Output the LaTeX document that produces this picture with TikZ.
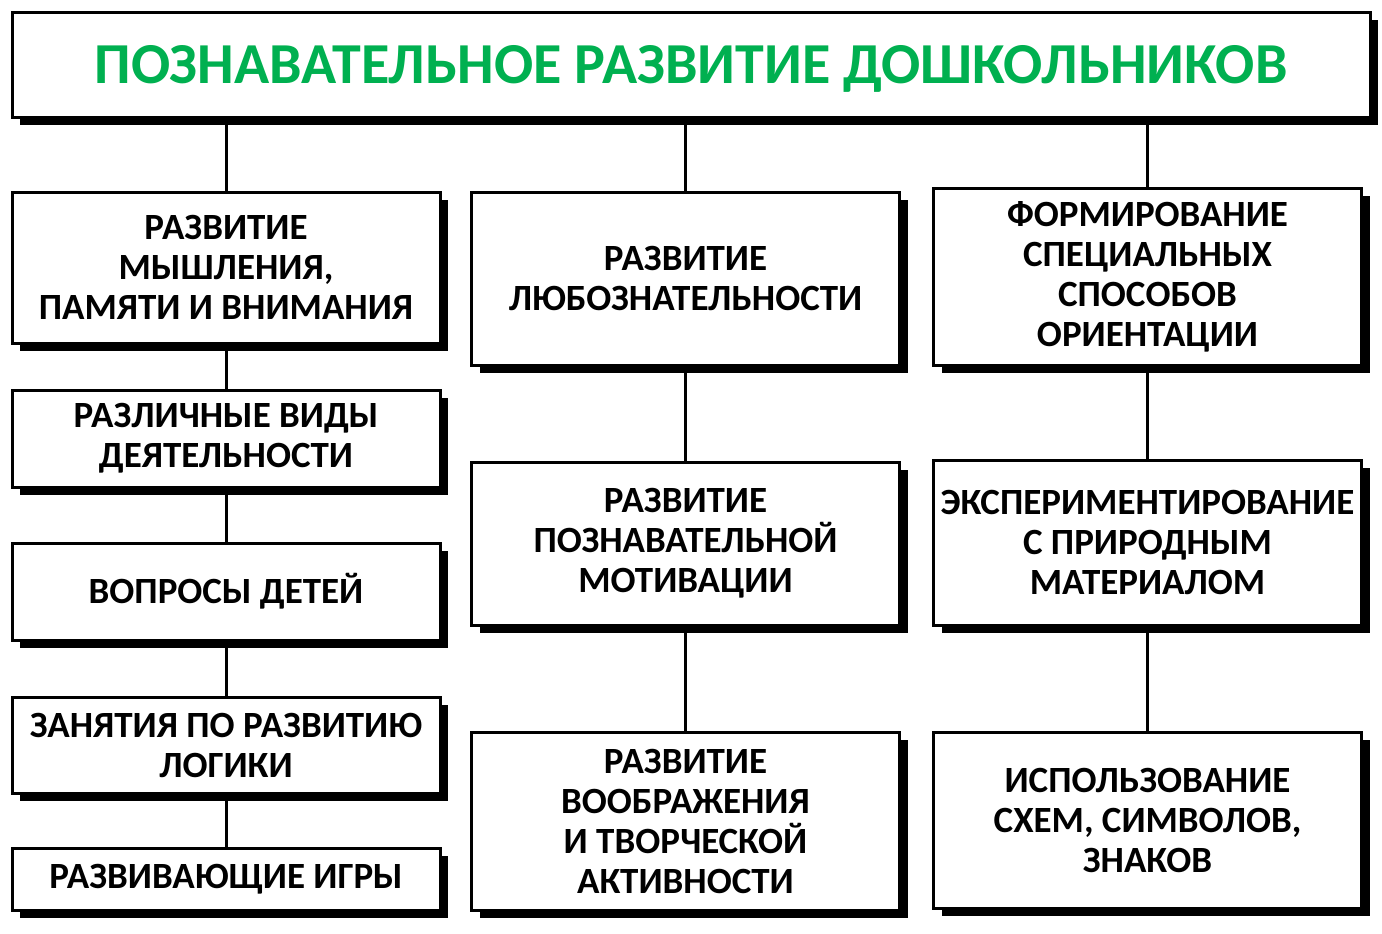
\documentclass[tikz,border=0pt]{standalone}
\usepackage{fontspec}
\setmainfont{Carlito}
\usetikzlibrary{shadows}
\definecolor{titlegreen}{RGB}{0,176,80}
\tikzset{
  box/.style={draw, line width=1.5pt, fill=white, align=center, inner sep=2pt,
    minimum width=214pt, font=\bfseries\fontsize{18.5}{20}\selectfont,
    drop shadow={shadow xshift=4pt, shadow yshift=-4pt, fill=black, opacity=1}},
  titlebox/.style={box, minimum width=679pt, minimum height=52.5pt, text depth=0pt,
    font=\bfseries\fontsize{29}{34}\selectfont, text=titlegreen},
  link/.style={line width=1.5pt}
}
\begin{document}
\begin{tikzpicture}[x=0.5pt,y=-0.5pt]
  \useasboundingbox (0,0) rectangle (1382,933);

  \node [titlebox] (title) at (691,64.5) {ПОЗНАВАТЕЛЬНОЕ РАЗВИТИЕ ДОШКОЛЬНИКОВ};

  % left column
  \node [box, minimum height=75.5pt] (think) at (226,267.5) {РАЗВИТИЕ\\МЫШЛЕНИЯ,\\ПАМЯТИ И ВНИМАНИЯ};
  \node [box, minimum height=48.5pt] (kinds) at (226,438.5) {РАЗЛИЧНЫЕ ВИДЫ\\ДЕЯТЕЛЬНОСТИ};
  \node [box, minimum height=48.5pt] (questions) at (226,591.5) {ВОПРОСЫ ДЕТЕЙ};
  \node [box, minimum height=48pt] (logic) at (226,745) {ЗАНЯТИЯ ПО РАЗВИТИЮ\\ЛОГИКИ};
  \node [box, minimum height=31pt] (games) at (226,879) {РАЗВИВАЮЩИЕ ИГРЫ};

  % middle column
  \node [box, minimum height=86.5pt] (curious) at (685.5,278.5) {РАЗВИТИЕ\\ЛЮБОЗНАТЕЛЬНОСТИ};
  \node [box, minimum height=81.5pt] (motive) at (685.5,543.5) {РАЗВИТИЕ\\ПОЗНАВАТЕЛЬНОЙ\\МОТИВАЦИИ};
  \node [box, minimum height=89pt] (imagine) at (685.5,821) {РАЗВИТИЕ\\ВООБРАЖЕНИЯ\\И ТВОРЧЕСКОЙ\\АКТИВНОСТИ};

  % right column
  \node [box, minimum height=88.5pt] (orient) at (1147.5,276.5) {ФОРМИРОВАНИЕ\\СПЕЦИАЛЬНЫХ\\СПОСОБОВ\\ОРИЕНТАЦИИ};
  \node [box, minimum height=82.5pt] (experiment) at (1147.5,542.5) {ЭКСПЕРИМЕНТИРОВАНИЕ\\С ПРИРОДНЫМ\\МАТЕРИАЛОМ};
  \node [box, minimum height=88pt] (symbols) at (1147.5,820) {ИСПОЛЬЗОВАНИЕ\\СХЕМ, СИМВОЛОВ,\\ЗНАКОВ};

  \draw [link] (title.south -| think) -- (think.north);
  \draw [link] (title.south -| curious) -- (curious.north);
  \draw [link] (title.south -| orient) -- (orient.north);

  \draw [link] (think.south) -- (kinds.north);
  \draw [link] (kinds.south) -- (questions.north);
  \draw [link] (questions.south) -- (logic.north);
  \draw [link] (logic.south) -- (games.north);

  \draw [link] (curious.south) -- (motive.north);
  \draw [link] (motive.south) -- (imagine.north);

  \draw [link] (orient.south) -- (experiment.north);
  \draw [link] (experiment.south) -- (symbols.north);
\end{tikzpicture}
\end{document}
